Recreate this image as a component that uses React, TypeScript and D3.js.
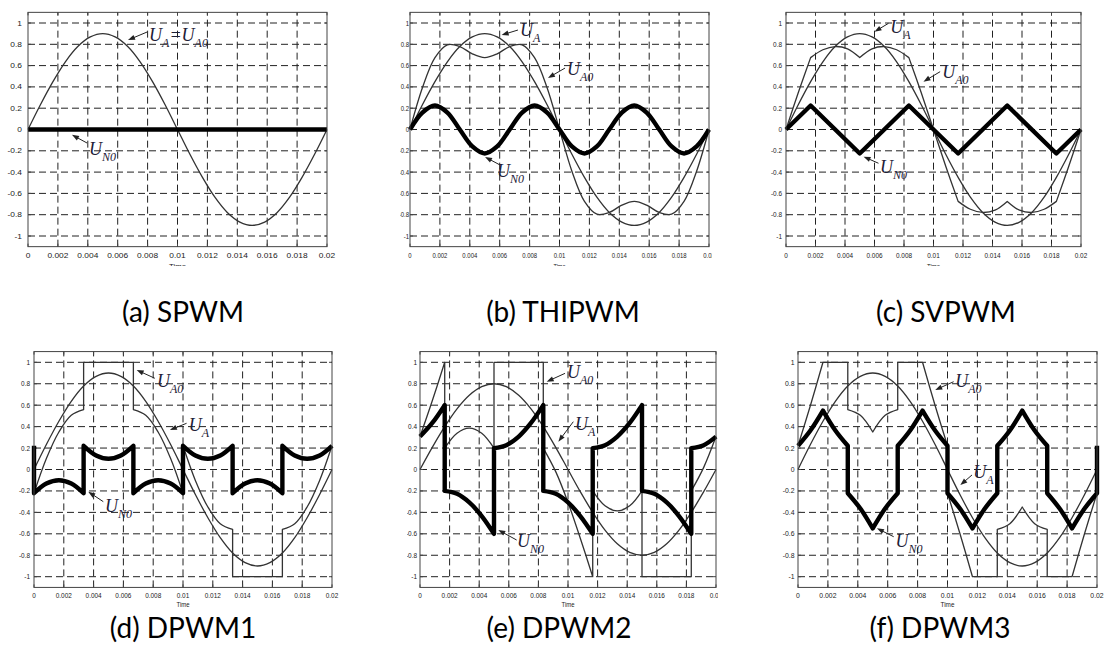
import React, { useEffect, useRef } from 'react'
import * as d3 from 'd3'

type Pt = [number, number]

// sample instants, 15 electrical degrees apart (50 Hz fundamental)
const TIME = [0, 0.00083, 0.00167, 0.0025, 0.00333, 0.00417, 0.005, 0.00583, 0.00667, 0.0075, 0.00833, 0.00917,
  0.01, 0.01083, 0.01167, 0.0125, 0.01333, 0.01417, 0.015, 0.01583, 0.01667, 0.0175, 0.01833, 0.01917, 0.02]

const X_TICKS = [0, 0.002, 0.004, 0.006, 0.008, 0.01, 0.012, 0.014, 0.016, 0.018, 0.02]
const X_LABELS = ['0', '0.002', '0.004', '0.006', '0.008', '0.01', '0.012', '0.014', '0.016', '0.018', '0.02']
const Y_TICKS = [1, 0.8, 0.6, 0.4, 0.2, 0, -0.2, -0.4, -0.6, -0.8, -1]
const Y_LABELS = ['1', '0.8', '0.6', '0.4', '0.2', '0', '-0.2', '-0.4', '-0.6', '-0.8', '-1']
const CAPTIONS = ['(a) SPWM', '(b) THIPWM', '(c) SVPWM', '(d) DPWM1', '(e) DPWM2', '(f) DPWM3']

// reference voltages
const UA_09 = [0, 0.233, 0.45, 0.636, 0.779, 0.869, 0.9, 0.869, 0.779, 0.636, 0.45, 0.233,
  0, -0.233, -0.45, -0.636, -0.779, -0.869, -0.9, -0.869, -0.779, -0.636, -0.45, -0.233, 0]
const UA_08 = [0, 0.207, 0.4, 0.566, 0.693, 0.773, 0.8, 0.773, 0.693, 0.566, 0.4, 0.207,
  0, -0.207, -0.4, -0.566, -0.693, -0.773, -0.8, -0.773, -0.693, -0.566, -0.4, -0.207, 0]

// (b) THIPWM
const UN0_THI = [0, 0.159, 0.225, 0.159, 0, -0.159, -0.225, -0.159, 0, 0.159, 0.225, 0.159,
  0, -0.159, -0.225, -0.159, 0, 0.159, 0.225, 0.159, 0, -0.159, -0.225, -0.159, 0]
const UA0_THI = [0, 0.392, 0.675, 0.795, 0.779, 0.71, 0.675, 0.71, 0.779, 0.795, 0.675, 0.392,
  0, -0.392, -0.675, -0.795, -0.779, -0.71, -0.675, -0.71, -0.779, -0.795, -0.675, -0.392, 0]

const onGrid = (vals: number[]): Pt[][] => [TIME.map((t, i) => [t, vals[i]] as Pt)]

// pieces are joined with straight segments (kinks and jumps)
const UN0_SPWM: Pt[][] = [[[0, 0], [0.02, 0]]]

// (c) SVPWM
const UN0_SV: Pt[][] = [[[0, 0], [0.00167, 0.225], [0.005, -0.225], [0.00833, 0.225], [0.01167, -0.225],
  [0.015, 0.225], [0.01833, -0.225], [0.02, 0]]]
const UA0_SV: Pt[][] = [
  [[0, 0], [0.00083, 0.345], [0.00167, 0.675]],
  [[0.00167, 0.675], [0.0025, 0.749], [0.00333, 0.779], [0.00417, 0.757], [0.005, 0.675]],
  [[0.005, 0.675], [0.00583, 0.757], [0.00667, 0.779], [0.0075, 0.749], [0.00833, 0.675]],
  [[0.00833, 0.675], [0.00917, 0.345], [0.01, 0], [0.01083, -0.345], [0.01167, -0.675]],
  [[0.01167, -0.675], [0.0125, -0.749], [0.01333, -0.779], [0.01417, -0.757], [0.015, -0.675]],
  [[0.015, -0.675], [0.01583, -0.757], [0.01667, -0.779], [0.0175, -0.749], [0.01833, -0.675]],
  [[0.01833, -0.675], [0.01917, -0.345], [0.02, 0]],
]

// (d) DPWM1
const UN0_D1: Pt[][] = [
  [[0, 0.221]],
  [[0, -0.221], [0.00083, -0.131], [0.00167, -0.1], [0.0025, -0.131], [0.00333, -0.221]],
  [[0.00333, 0.221], [0.00417, 0.131], [0.005, 0.1], [0.00583, 0.131], [0.00667, 0.221]],
  [[0.00667, -0.221], [0.0075, -0.131], [0.00833, -0.1], [0.00917, -0.131], [0.01, -0.221]],
  [[0.01, 0.221], [0.01083, 0.131], [0.01167, 0.1], [0.0125, 0.131], [0.01333, 0.221]],
  [[0.01333, -0.221], [0.01417, -0.131], [0.015, -0.1], [0.01583, -0.131], [0.01667, -0.221]],
  [[0.01667, 0.221], [0.0175, 0.131], [0.01833, 0.1], [0.01917, 0.131], [0.02, 0.221]],
]
const UA0_D1: Pt[][] = [
  [[0, -0.221], [0.00083, 0.102], [0.00167, 0.35], [0.0025, 0.506], [0.00333, 0.559]],
  [[0.00333, 1], [0.00667, 1]],
  [[0.00667, 0.559], [0.0075, 0.506], [0.00833, 0.35], [0.00917, 0.102], [0.01, -0.221]],
  [[0.01, 0.221], [0.01083, -0.102], [0.01167, -0.35], [0.0125, -0.506], [0.01333, -0.559]],
  [[0.01333, -1], [0.01667, -1]],
  [[0.01667, -0.559], [0.0175, -0.506], [0.01833, -0.35], [0.01917, -0.102], [0.02, 0.221]],
]

// (e) DPWM2
const UN0_D2: Pt[][] = [
  [[0, 0.307], [0.00083, 0.434], [0.00167, 0.6]],
  [[0.00167, -0.2], [0.0025, -0.227], [0.00333, -0.307], [0.00417, -0.434], [0.005, -0.6]],
  [[0.005, 0.2], [0.00583, 0.227], [0.00667, 0.307], [0.0075, 0.434], [0.00833, 0.6]],
  [[0.00833, -0.2], [0.00917, -0.227], [0.01, -0.307], [0.01083, -0.434], [0.01167, -0.6]],
  [[0.01167, 0.2], [0.0125, 0.227], [0.01333, 0.307], [0.01417, 0.434], [0.015, 0.6]],
  [[0.015, -0.2], [0.01583, -0.227], [0.01667, -0.307], [0.0175, -0.434], [0.01833, -0.6]],
  [[0.01833, 0.2], [0.01917, 0.227], [0.02, 0.307]],
]
const UA0_D2: Pt[][] = [
  [[0, 0.307], [0.00083, 0.641], [0.00167, 1]],
  [[0.00167, 0.2], [0.0025, 0.339], [0.00333, 0.386], [0.00417, 0.339], [0.005, 0.2]],
  [[0.005, 1], [0.00833, 1]],
  [[0.00833, 0.2], [0.00917, -0.02], [0.01, -0.307], [0.01083, -0.641], [0.01167, -1]],
  [[0.01167, -0.2], [0.0125, -0.339], [0.01333, -0.386], [0.01417, -0.339], [0.015, -0.2]],
  [[0.015, -1], [0.01833, -1]],
  [[0.01833, -0.2], [0.01917, 0.02], [0.02, 0.307]],
]

// (f) DPWM3
const UN0_D3: Pt[][] = [
  [[0, 0.221], [0.00083, 0.364], [0.00167, 0.55]],
  [[0.00167, 0.55], [0.0025, 0.364], [0.00333, 0.221]],
  [[0.00333, -0.221], [0.00417, -0.364], [0.005, -0.55]],
  [[0.005, -0.55], [0.00583, -0.364], [0.00667, -0.221]],
  [[0.00667, 0.221], [0.0075, 0.364], [0.00833, 0.55]],
  [[0.00833, 0.55], [0.00917, 0.364], [0.01, 0.221]],
  [[0.01, -0.221], [0.01083, -0.364], [0.01167, -0.55]],
  [[0.01167, -0.55], [0.0125, -0.364], [0.01333, -0.221]],
  [[0.01333, 0.221], [0.01417, 0.364], [0.015, 0.55]],
  [[0.015, 0.55], [0.01583, 0.364], [0.01667, 0.221]],
  [[0.01667, -0.221], [0.0175, -0.364], [0.01833, -0.55]],
  [[0.01833, -0.55], [0.01917, -0.364], [0.02, -0.221]],
  [[0.02, 0.221]],
]
const UA0_D3: Pt[][] = [
  [[0, 0.221], [0.00083, 0.597], [0.00167, 1]],
  [[0.00167, 1], [0.00333, 1]],
  [[0.00333, 0.559], [0.00417, 0.505], [0.005, 0.35]],
  [[0.005, 0.35], [0.00583, 0.505], [0.00667, 0.559]],
  [[0.00667, 1], [0.00833, 1]],
  [[0.00833, 1], [0.00917, 0.597], [0.01, 0.221]],
  [[0.01, -0.221], [0.01083, -0.597], [0.01167, -1]],
  [[0.01167, -1], [0.01333, -1]],
  [[0.01333, -0.559], [0.01417, -0.505], [0.015, -0.35]],
  [[0.015, -0.35], [0.01583, -0.505], [0.01667, -0.559]],
  [[0.01667, -1], [0.01833, -1]],
  [[0.01833, -1], [0.01917, -0.597], [0.02, -0.221]],
]

type Series = { pieces: Pt[][]; thick?: boolean; linear?: boolean }
type Note = { parts: [string, string][]; tip: Pt; tail: Pt; at: Pt }

const PANELS: { series: Series[]; notes: Note[] }[] = [
  {
    series: [{ pieces: onGrid(UA_09) }, { pieces: UN0_SPWM, thick: true, linear: true }],
    notes: [
      { parts: [['U', 'A'], ['=U', 'A0']], tip: [0.00669, 0.84], tail: [0.00796, 0.915], at: [0.0081, 0.83] },
      { parts: [['U', 'N0']], tip: [0.00294, -0.05], tail: [0.00395, -0.127], at: [0.00408, -0.24] },
    ],
  },
  {
    series: [{ pieces: onGrid(UA_09) }, { pieces: onGrid(UA0_THI) }, { pieces: onGrid(UN0_THI), thick: true }],
    notes: [
      { parts: [['U', 'A']], tip: [0.00613, 0.887], tail: [0.00722, 0.934], at: [0.00736, 0.88] },
      { parts: [['U', 'A0']], tip: [0.00923, 0.484], tail: [0.01037, 0.577], at: [0.0105, 0.51] },
      { parts: [['U', 'N0']], tip: [0.00502, -0.258], tail: [0.00602, -0.333], at: [0.00582, -0.445] },
    ],
  },
  {
    series: [{ pieces: onGrid(UA_09) }, { pieces: UA0_SV }, { pieces: UN0_SV, thick: true, linear: true }],
    notes: [
      { parts: [['U', 'A']], tip: [0.006, 0.918], tail: [0.00695, 0.997], at: [0.00706, 0.91] },
      { parts: [['U', 'A0']], tip: [0.00932, 0.449], tail: [0.01045, 0.543], at: [0.01059, 0.48] },
      { parts: [['U', 'N0']], tip: [0.00526, -0.255], tail: [0.00627, -0.317], at: [0.00638, -0.41] },
    ],
  },
  {
    series: [{ pieces: onGrid(UA_09) }, { pieces: UA0_D1 }, { pieces: UN0_D1, thick: true }],
    notes: [
      { parts: [['U', 'A0']], tip: [0.00689, 0.928], tail: [0.00811, 0.851], at: [0.00825, 0.77] },
      { parts: [['U', 'A']], tip: [0.00912, 0.368], tail: [0.01024, 0.431], at: [0.01039, 0.36] },
      { parts: [['U', 'N0']], tip: [0.00364, -0.207], tail: [0.00465, -0.3], at: [0.00476, -0.4] },
    ],
  },
  {
    series: [{ pieces: onGrid(UA_08) }, { pieces: UA0_D2 }, { pieces: UN0_D2, thick: true }],
    notes: [
      { parts: [['U', 'A0']], tip: [0.00856, 0.819], tail: [0.0098, 0.897], at: [0.00993, 0.85] },
      { parts: [['U', 'A']], tip: [0.00935, 0.26], tail: [0.01036, 0.446], at: [0.01047, 0.37] },
      { parts: [['U', 'N0']], tip: [0.00529, -0.564], tail: [0.00653, -0.658], at: [0.00655, -0.72] },
    ],
  },
  {
    series: [{ pieces: onGrid(UA_09) }, { pieces: UA0_D3 }, { pieces: UN0_D3, thick: true }],
    notes: [
      { parts: [['U', 'A0']], tip: [0.00918, 0.742], tail: [0.01041, 0.819], at: [0.01052, 0.77] },
      { parts: [['U', 'A']], tip: [0.01086, -0.145], tail: [0.01164, -0.051], at: [0.01173, -0.08] },
      { parts: [['U', 'N0']], tip: [0.00528, -0.549], tail: [0.0064, -0.627], at: [0.00652, -0.72] },
    ],
  },
]

// where each cropped figure sits on the page; sx = horizontal squeeze of its tick labels
const LAYOUT = [
  { x0: 28, x1: 327, row: 0, clipX: [0, 368], capX: 183, gap: 6, sx: 1.2 },
  { x0: 410, x1: 709, row: 0, clipX: [400, 712], capX: 563, gap: 1, sx: 0.85 },
  { x0: 786, x1: 1081, row: 0, clipX: [740, 1105], capX: 946, gap: 4, sx: 0.92 },
  { x0: 34, x1: 332, row: 1, clipX: [0, 368], capX: 183, gap: 4, sx: 0.92 },
  { x0: 420, x1: 716, row: 1, clipX: [407, 718], capX: 559, gap: 3, sx: 0.92 },
  { x0: 798, x1: 1097, row: 1, clipX: [740, 1105], capX: 940, gap: 3.5, sx: 0.98 },
]
const ROWS = [
  { yTop: 23, yBot: 236, clipY: [0, 266], capY: 322, timeDy: 22 },
  { yTop: 362.3, yBot: 576.7, clipY: [335, 614], capY: 638, timeDy: 19.5 },
]

const SANS = "'Liberation Sans', Arial, sans-serif"
const SERIF = "'Liberation Serif', 'DejaVu Serif', serif"

export default function App() {
  const ref = useRef<SVGSVGElement>(null)

  useEffect(() => {
    const svg = d3.select(ref.current)
    svg.selectAll('*').remove()
    const defs = svg.append('defs')

    PANELS.forEach((panel, i) => {
      const L = LAYOUT[i]
      const R = ROWS[L.row]
      const x = d3.scaleLinear().domain([0, 0.02]).range([L.x0, L.x1])
      const y = d3.scaleLinear().domain([-1, 1]).range([R.yBot, R.yTop])
      const top = y(1.1)
      const bottom = y(-1.1)

      defs.append('clipPath').attr('id', `clip-${i}`)
        .append('rect')
        .attr('x', L.clipX[0]).attr('y', R.clipY[0])
        .attr('width', L.clipX[1] - L.clipX[0]).attr('height', R.clipY[1] - R.clipY[0])
      const g = svg.append('g').attr('clip-path', `url(#clip-${i})`)

      // dashed grid
      X_TICKS.slice(1, -1).forEach(t => {
        g.append('line').attr('x1', x(t)).attr('x2', x(t)).attr('y1', bottom).attr('y2', top)
          .attr('stroke', '#222').attr('stroke-width', 1).attr('stroke-dasharray', '7,4')
      })
      Y_TICKS.forEach(v => {
        g.append('line').attr('x1', L.x0).attr('x2', L.x1).attr('y1', y(v)).attr('y2', y(v))
          .attr('stroke', '#222').attr('stroke-width', 1).attr('stroke-dasharray', '7,4')
      })

      // inner ticks
      X_TICKS.forEach(t => {
        g.append('line').attr('x1', x(t)).attr('x2', x(t)).attr('y1', bottom).attr('y2', bottom - 3).attr('stroke', '#444')
        g.append('line').attr('x1', x(t)).attr('x2', x(t)).attr('y1', top).attr('y2', top + 3).attr('stroke', '#444')
      })
      Y_TICKS.forEach(v => {
        g.append('line').attr('x1', L.x0).attr('x2', L.x0 + 3).attr('y1', y(v)).attr('y2', y(v)).attr('stroke', '#444')
        g.append('line').attr('x1', L.x1).attr('x2', L.x1 - 3).attr('y1', y(v)).attr('y2', y(v)).attr('stroke', '#444')
      })

      // waveforms
      const smooth = d3.line<Pt>().x(d => x(d[0])).y(d => y(d[1])).curve(d3.curveCatmullRom.alpha(0.5))
      const straight = d3.line<Pt>().x(d => x(d[0])).y(d => y(d[1]))
      const order = [...panel.series].sort((a, b) => Number(!!a.thick) - Number(!!b.thick))
      order.forEach(s => {
        const gen = s.linear ? straight : smooth
        const d = s.pieces.map((pc, j) => {
          const str = (gen(pc) || '').replace(/Z$/, '')
          return j === 0 ? str : 'L' + str.slice(1)
        }).join('')
        g.append('path').attr('d', d).attr('fill', 'none')
          .attr('stroke', s.thick ? '#000' : '#333')
          .attr('stroke-width', s.thick ? 4.4 : 1.3)
          .attr('stroke-linejoin', 'round')
      })

      // frame
      g.append('rect').attr('x', L.x0).attr('y', top).attr('width', L.x1 - L.x0).attr('height', bottom - top)
        .attr('fill', 'none').attr('stroke', '#444').attr('stroke-width', 1)

      // annotations
      panel.notes.forEach(n => {
        const tx = x(n.tip[0]), ty = y(n.tip[1])
        const sx = x(n.tail[0]), sy = y(n.tail[1])
        const len = Math.hypot(tx - sx, ty - sy)
        const ux = (tx - sx) / len, uy = (ty - sy) / len
        g.append('line').attr('x1', sx).attr('y1', sy).attr('x2', tx - ux * 5).attr('y2', ty - uy * 5)
          .attr('stroke', '#222').attr('stroke-width', 1)
        const bx = tx - ux * 7, by = ty - uy * 7
        g.append('path')
          .attr('d', `M${tx},${ty}L${bx - uy * 2.6},${by + ux * 2.6}L${bx + uy * 2.6},${by - ux * 2.6}Z`)
          .attr('fill', '#222')
        const text = g.append('text').attr('x', x(n.at[0])).attr('y', y(n.at[1]))
          .attr('font-family', SERIF).attr('font-style', 'italic').attr('font-size', 18).attr('fill', '#1d2036')
        n.parts.forEach(([main, sub], k) => {
          text.append('tspan').attr('dy', k === 0 ? 0 : -6).text(main)
          text.append('tspan').attr('dy', 6).attr('font-size', 12).text(sub)
        })
      })

      // tick labels
      const label = (px: number, py: number, anchor: string, str: string, size = 7) => {
        g.append('text').attr('transform', `translate(${px},${py}) scale(${L.sx},1)`)
          .attr('text-anchor', anchor).attr('font-family', SANS).attr('font-size', size)
          .attr('fill', '#222').text(str)
      }
      X_TICKS.forEach((t, k) => label(x(t), bottom + 11, 'middle', X_LABELS[k]))
      Y_TICKS.forEach((v, k) => label(L.x0 - L.gap, y(v) + 2.5, 'end', Y_LABELS[k]))
      label((L.x0 + L.x1) / 2, bottom + R.timeDy, 'middle', 'Time', 6.5)

      // caption
      svg.append('text').attr('x', L.capX).attr('y', R.capY).attr('text-anchor', 'middle')
        .attr('font-family', "Lato, 'Open Sans', sans-serif").attr('font-size', 28).attr('fill', '#000')
        .text(CAPTIONS[i])
    })
  }, [])

  return (
    <svg ref={ref} width={1105} height={646}
      style={{ position: 'absolute', left: 0, top: 0, background: '#fff', display: 'block' }} />
  )
}
